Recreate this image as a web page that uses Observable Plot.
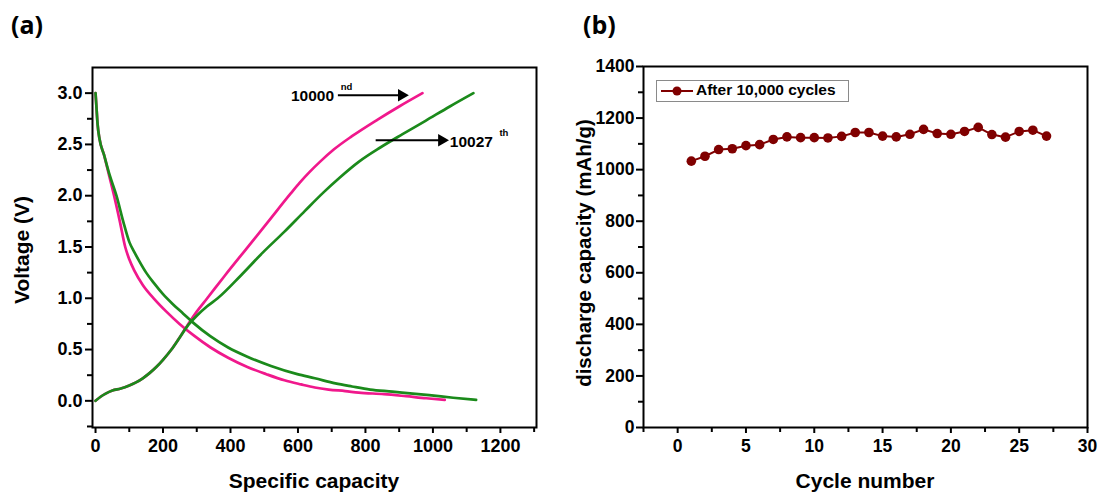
<!DOCTYPE html>
<html><head><meta charset="utf-8">
<script src="https://cdn.jsdelivr.net/npm/d3@7"></script>
<script src="https://cdn.jsdelivr.net/npm/@observablehq/plot@0.6"></script>
<style>
body{margin:0;background:#fff;}
#wrap{position:relative;width:1100px;height:493px;overflow:hidden;font-family:"Liberation Sans",Arial,sans-serif;font-weight:bold;color:#000;}
.p{position:absolute;top:0;}
.t{position:absolute;white-space:nowrap;}
.v{transform:translate(-50%,-50%) rotate(-90deg);}
.h{transform:translate(-50%,-50%);}
#legend{position:absolute;left:656px;top:80px;width:191px;height:20px;border:1px solid #8a8a8a;background:#fff;}
</style></head><body>
<div id="wrap">
  <div class="t" style="left:11px;top:7px;font-family:'Open Sans',sans-serif;font-size:25px;">(a)</div>
  <div class="t" style="left:583px;top:7px;font-family:'Open Sans',sans-serif;font-size:25px;">(b)</div>
  <div id="pa" class="p" style="left:0"></div>
  <div id="pb" class="p" style="left:550px"></div>
  <div class="t v" style="left:22px;top:250px;font-size:21px;">Voltage (V)</div>
  <div class="t h" style="left:314px;top:481px;font-size:21px;">Specific capacity</div>
  <div class="t v" style="left:584px;top:253px;font-size:20.5px;">discharge capacity (mAh/g)</div>
  <div class="t h" style="left:865px;top:481px;font-size:21px;">Cycle number</div>
  <div id="legend">
    <svg width="36" height="20" style="position:absolute;left:2px;top:0">
      <line x1="2" y1="10" x2="34" y2="10" stroke="#800000" stroke-width="2"/>
      <circle cx="18" cy="10" r="4.5" fill="#800000"/>
    </svg>
    <span class="t" style="left:39px;top:0px;font-size:15.5px;">After 10,000 cycles</span>
  </div>
</div>
<script>
// ---------- Panel (a): charge/discharge profiles ----------
const dis10000Cap = [0, 3, 6, 12, 25, 40, 55, 72, 88, 100, 115, 140, 175, 210, 249, 290, 341, 393, 450, 506, 560, 609, 650, 691, 740, 780, 855, 920, 980, 1035];
const dis10000V   = [3.0, 2.85, 2.7, 2.55, 2.4, 2.2, 2.0, 1.75, 1.5, 1.38, 1.27, 1.13, 0.99, 0.87, 0.75, 0.64, 0.52, 0.42, 0.33, 0.26, 0.2, 0.16, 0.13, 0.11, 0.095, 0.08, 0.065, 0.045, 0.025, 0.01];
const chg10000Cap = [0, 15, 30, 50, 75, 100, 120, 140, 160, 180, 200, 225, 250, 275, 300, 331, 383, 444, 510, 578, 606, 634, 665, 706, 760, 835, 900, 969];
const chg10000V   = [0.0, 0.04, 0.07, 0.1, 0.12, 0.15, 0.18, 0.22, 0.27, 0.33, 0.4, 0.5, 0.62, 0.75, 0.87, 1.0, 1.22, 1.47, 1.74, 2.02, 2.13, 2.23, 2.33, 2.45, 2.58, 2.74, 2.87, 3.0];
const dis10027Cap = [0, 3, 6, 12, 25, 42, 62, 82, 100, 115, 130, 150, 175, 200, 230, 260, 290, 340, 393, 450, 520, 598, 650, 711, 760, 814, 880, 940, 989, 1060, 1128];
const dis10027V   = [3.0, 2.85, 2.7, 2.55, 2.4, 2.2, 2.0, 1.75, 1.55, 1.45, 1.36, 1.25, 1.14, 1.04, 0.94, 0.85, 0.76, 0.63, 0.52, 0.43, 0.34, 0.26, 0.22, 0.17, 0.14, 0.11, 0.09, 0.07, 0.055, 0.03, 0.01];
const chg10027Cap = [0, 15, 30, 50, 75, 100, 120, 140, 160, 180, 200, 225, 250, 275, 300, 330, 362, 430, 497, 560, 620, 675, 725, 780, 844, 910, 978, 1050, 1120];
const chg10027V   = [0.0, 0.04, 0.07, 0.1, 0.12, 0.15, 0.18, 0.22, 0.27, 0.33, 0.4, 0.5, 0.62, 0.74, 0.83, 0.92, 1.0, 1.22, 1.45, 1.65, 1.85, 2.03, 2.18, 2.33, 2.47, 2.6, 2.73, 2.87, 3.0];
const colour10000 = "#f0188c";
const colour10027 = "#1b8a1b";
const xTicksA = [0, 200, 400, 600, 800, 1000, 1200];
const xMinorA = [100, 300, 500, 700, 900, 1100, 1300];
const yTicksA = [0.0, 0.5, 1.0, 1.5, 2.0, 2.5, 3.0];
const yMinorA = [-0.25, 0.25, 0.75, 1.25, 1.75, 2.25, 2.75];
// annotations (data coordinates)
const arrowX1 = [742, 854];
const arrowX2 = [925, 1044];
const arrowY  = [2.98, 2.54];
const noteText = ["10000", "10027"];
const noteX = [707, 1050];
const noteY = [2.97, 2.52];
const supText = ["nd", "th"];
const supX = [727, 1197];
const supY = [3.06, 2.61];

// ---------- Panel (b): cycling ----------
const cycles = [1,2,3,4,5,6,7,8,9,10,11,12,13,14,15,16,17,18,19,20,21,22,23,24,25,26,27];
const capacity = [1033,1052,1078,1081,1093,1097,1117,1127,1124,1124,1123,1129,1144,1144,1130,1127,1137,1156,1140,1137,1148,1164,1136,1126,1148,1153,1130];
const xTicksB = [0, 5, 10, 15, 20, 25, 30];
const xMinorB = [-2.5, 2.5, 7.5, 12.5, 17.5, 22.5, 27.5];
const yTicksB = [0, 200, 400, 600, 800, 1000, 1200, 1400];
const yMinorB = [100, 300, 500, 700, 900, 1100, 1300];
const colourB = "#800000";

const zip = (xs, ys) => xs.map((x, i) => ({x, y: ys[i]}));
const style = {fontFamily: "'Liberation Sans', Arial, sans-serif", fontWeight: "bold", fontSize: "18px", color: "black", background: "transparent", overflow: "visible"};
const styleB = {...style, fontSize: "17.5px"};
const noText = () => "";
const plain = d => String(d);

const arrows = arrowX1.map((x1, i) => ({x1, x2: arrowX2[i], y: arrowY[i]}));
const notes = noteText.map((t, i) => ({t, x: noteX[i], y: noteY[i]}));
const sups = supText.map((t, i) => ({t, x: supX[i], y: supY[i]}));
const lineOpts = c => ({x: "x", y: "y", stroke: c, strokeWidth: 2.7, curve: "monotone-x"});

const plotA = Plot.plot({
  width: 550, height: 493,
  marginTop: 67, marginBottom: 66, marginLeft: 92, marginRight: 14,
  x: {domain: [-9, 1307]},
  y: {domain: [-0.26, 3.25]},
  style,
  marks: [
    Plot.axisY({ticks: yTicksA, tickFormat: d3.format(".1f"), tickSize: 7, tickPadding: 3, strokeWidth: 2, label: null}),
    Plot.axisY({ticks: yMinorA, tickFormat: noText, tickSize: 5, strokeWidth: 2, label: null}),
    Plot.axisX({ticks: xTicksA, tickFormat: plain, tickSize: 6, tickPadding: 6, strokeWidth: 2, label: null}),
    Plot.axisX({ticks: xMinorA, tickFormat: noText, tickSize: 5, strokeWidth: 2, label: null}),
    Plot.line(zip(dis10000Cap, dis10000V), lineOpts(colour10000)),
    Plot.line(zip(chg10000Cap, chg10000V), lineOpts(colour10000)),
    Plot.line(zip(dis10027Cap, dis10027V), lineOpts(colour10027)),
    Plot.line(zip(chg10027Cap, chg10027V), lineOpts(colour10027)),
    Plot.frame({stroke: "black", strokeWidth: 2}),
    Plot.link(arrows, {x1: "x1", x2: "x2", y1: "y", y2: "y", stroke: "black", strokeWidth: 2, dx: -8}),
    Plot.dot(arrows, {x: "x2", y: "y", symbol: "triangle2", rotate: 90, r: 6, fill: "black", stroke: "none", dx: -6}),
    Plot.text(notes.slice(0, 1), {x: "x", y: "y", text: "t", textAnchor: "end", fontSize: 15.5, fontWeight: "bold"}),
    Plot.text(notes.slice(1), {x: "x", y: "y", text: "t", textAnchor: "start", fontSize: 15.5, fontWeight: "bold"}),
    Plot.text(sups, {x: "x", y: "y", text: "t", textAnchor: "start", fontSize: 9.5, fontWeight: "bold"})
  ]
});
document.getElementById("pa").appendChild(plotA);

const plotB = Plot.plot({
  width: 550, height: 493,
  marginTop: 66, marginBottom: 66, marginLeft: 93, marginRight: 13,
  x: {domain: [-2.5, 30]},
  y: {domain: [0, 1400]},
  style: styleB,
  marks: [
    Plot.axisY({ticks: yTicksB, tickFormat: plain, tickSize: 7, tickPadding: 2, strokeWidth: 2, label: null}),
    Plot.axisY({ticks: yMinorB, tickFormat: noText, tickSize: 5, strokeWidth: 2, label: null}),
    Plot.axisX({ticks: xTicksB, tickFormat: plain, tickSize: 6, tickPadding: 6, strokeWidth: 2, label: null}),
    Plot.axisX({ticks: xMinorB, tickFormat: noText, tickSize: 5, strokeWidth: 2, label: null}),
    Plot.line(zip(cycles, capacity), {x: "x", y: "y", stroke: colourB, strokeWidth: 2}),
    Plot.dot(zip(cycles, capacity), {x: "x", y: "y", r: 4.8, fill: colourB, stroke: "none"}),
    Plot.frame({stroke: "black", strokeWidth: 2})
  ]
});
document.getElementById("pb").appendChild(plotB);
</script>
</body></html>
